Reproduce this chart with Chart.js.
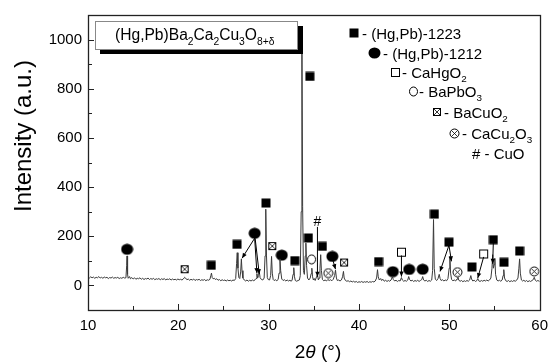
<!DOCTYPE html>
<html><head><meta charset="utf-8">
<script src="https://cdn.jsdelivr.net/npm/chart.js@4.4.1/dist/chart.umd.min.js"></script>
<style>html,body{margin:0;padding:0;background:#fff;}#wrap{width:555px;height:363px;position:relative;}</style>
</head><body><div id="wrap"><canvas id="c" width="555" height="363"></canvas></div>
<script>
const xTickValues = [10,20,30,40,50,60];
const yTickValues = [0,200,400,600,800,1000];
const xAxisTitle = ['2', 'θ', ' (°)'];
const yAxisTitle = 'Intensity (a.u.)';

// XRD scan: [2theta, intensity]
const scan = [
[10.0,33],[10.15,30],[10.3,35],[10.45,31],[10.6,34],[10.75,29],[10.9,33],[11.05,31],[11.2,36],[11.35,30],[11.5,33],[11.65,29],[11.8,34],[11.95,31],[12.1,33],[12.25,28],[12.4,32],[12.55,30],[12.7,34],[12.85,29],[13.0,32],[13.15,30],[13.3,33],[13.45,28],[13.6,31],[13.75,29],[13.9,33],[14.05,30],[14.2,31],[14.28,80],[14.32,120],[14.38,45],[14.45,29],[14.6,36],[14.7,27],[14.85,32],[15.0,26],
[15.15,31],[15.3,25],[15.45,29],[15.6,27],[15.75,31],[15.9,25],[16.05,29],[16.2,24],[16.35,28],[16.5,26],[16.65,30],[16.8,24],[16.95,28],[17.1,25],[17.25,29],[17.4,23],[17.55,27],[17.7,25],[17.85,28],[18.0,23],[18.15,27],[18.3,24],[18.45,28],[18.6,22],[18.75,26],[18.9,24],[19.05,27],[19.2,22],[19.35,26],[19.5,23],[19.65,25],[19.8,22],[19.95,26],[20.1,23],[20.25,25],[20.4,22],[20.55,26],[20.7,33],[20.8,30],[20.95,23],
[21.1,26],[21.25,21],[21.4,25],[21.55,22],[21.7,26],[21.85,20],[22.0,24],[22.15,22],[22.3,25],[22.45,20],[22.6,23],[22.75,21],[22.9,24],[23.05,19],[23.2,23],[23.35,21],[23.5,25],[23.6,40],[23.67,50],[23.75,32],[23.85,27],[24.0,29],[24.1,24],[24.25,27],[24.4,21],[24.55,24],[24.7,19],[24.85,23],[25.0,20],[25.15,22],[25.3,18],[25.45,22],[25.6,19],[25.75,21],[25.9,18],[26.05,22],[26.2,20],[26.35,28],[26.45,90],[26.52,133],[26.6,70],[26.7,32],[26.8,28],[26.9,55],[26.98,108],[27.05,60],[27.15,30],[27.3,22],[27.45,18],[27.6,22],[27.75,17],[27.9,21],[28.05,18],[28.2,22],[28.35,19],[28.5,23],[28.6,28],[28.7,48],[28.78,30],[28.88,40],[28.95,58],[29.05,32],[29.2,24],[29.35,22],[29.5,30],[29.6,120],[29.68,310],[29.76,120],[29.85,32],[29.95,24],[30.1,22],[30.22,40],[30.32,118],[30.4,50],[30.5,24],[30.6,20],[30.75,23],[30.9,19],[31.05,24],[31.15,50],[31.25,108],[31.33,60],[31.45,26],[31.6,20],[31.75,23],[31.9,18],[32.05,22],[32.2,18],[32.35,21],[32.5,17],[32.6,22],[32.7,45],[32.78,72],[32.86,35],[32.95,20],[33.1,17],[33.25,20],[33.4,22],[33.5,40],[33.6,300],[33.68,1040],[33.76,320],[33.85,60],[33.95,45],[34.05,120],[34.12,172],[34.2,80],[34.3,30],[34.45,22],[34.6,30],[34.7,48],[34.78,70],[34.86,35],[34.95,22],[35.05,28],[35.15,20],[35.3,35],[35.4,45],[35.5,22],[35.6,30],[35.68,70],[35.76,125],[35.84,60],[35.95,24],[36.1,19],[36.25,22],[36.4,18],[36.55,24],[36.7,20],[36.85,23],[37.0,19],[37.15,25],[37.3,40],[37.4,62],[37.5,30],[37.6,20],[37.75,22],[37.9,18],[38.05,22],[38.18,35],[38.28,57],[38.36,30],[38.5,20],[38.65,17],[38.8,19],[38.95,15],[39.1,18],[39.25,14],[39.4,17],[39.55,13],[39.7,16],[39.85,12],[40.0,15],[40.15,13],[40.3,16],[40.45,12],[40.6,15],[40.75,13],[40.9,16],[41.05,12],[41.2,15],[41.35,13],[41.5,16],[41.65,14],[41.8,18],[41.95,30],[42.05,64],[42.13,35],[42.25,22],[42.4,28],[42.5,20],[42.65,25],[42.8,17],[42.95,21],[43.1,16],[43.25,20],[43.4,17],[43.55,22],[43.7,35],[43.8,24],[43.95,18],[44.1,21],[44.25,16],[44.4,20],[44.55,18],[44.7,32],[44.8,22],[44.95,17],[45.1,20],[45.25,17],[45.4,22],[45.5,36],[45.6,24],[45.75,18],[45.9,21],[46.05,16],[46.2,20],[46.35,17],[46.5,21],[46.65,16],[46.8,20],[46.95,24],[47.05,36],[47.15,22],[47.3,18],[47.45,21],[47.6,16],[47.75,20],[47.9,17],[48.05,22],[48.15,60],[48.25,268],[48.33,70],[48.45,25],[48.6,20],[48.75,28],[48.88,45],[48.98,28],[49.1,20],[49.25,23],[49.4,18],[49.55,22],[49.7,19],[49.85,28],[49.98,70],[50.06,118],[50.14,50],[50.25,24],[50.4,19],[50.55,22],[50.7,18],[50.85,26],[50.95,33],[51.05,21],[51.2,17],[51.35,20],[51.5,15],[51.65,19],[51.8,16],[51.95,20],[52.1,17],[52.25,22],[52.38,40],[52.46,26],[52.6,18],[52.75,21],[52.9,16],[53.05,20],[53.15,28],[53.25,19],[53.4,16],[53.55,20],[53.7,17],[53.85,21],[54.0,18],[54.15,22],[54.3,18],[54.45,22],[54.6,30],[54.72,70],[54.8,125],[54.88,70],[54.97,85],[55.04,110],[55.12,45],[55.25,22],[55.4,18],[55.55,21],[55.7,17],[55.85,22],[55.95,40],[56.03,64],[56.11,30],[56.25,19],[56.4,16],[56.55,20],[56.7,15],[56.85,19],[57.0,16],[57.15,20],[57.3,17],[57.45,21],[57.6,30],[57.7,70],[57.78,108],[57.86,50],[57.98,22],[58.1,18],[58.25,21],[58.4,16],[58.55,20],[58.7,15],[58.85,19],[59.0,16],[59.15,20],[59.3,24],[59.4,33],[59.5,22],[59.65,17],[59.8,20],[60.0,16]
];

// phase markers [2theta, intensity]
const phase1223 = [[23.65,82],[26.5,167],[29.7,335],[32.9,101],[34.56,850],[34.4,193],[35.95,159],[42.17,97],[48.35,290],[49.96,176],[52.5,75],[54.87,186],[56.05,94],[57.78,140]];
const phase1212 = [[14.33,147],[28.45,212],[31.45,123],[37.05,118],[43.75,56],[45.55,65],[47.05,66]];
const phaseCaHgO2 = [[44.7,135],[53.8,128]];
const phaseBaPbO3 = [[34.75,106]];
const phaseBaCuO2 = [[20.7,66],[30.4,160],[38.35,93]];
const phaseCaCu2O3 = [[36.6,50],[50.9,54],[59.4,57]];
const phaseCuO = [[35.4,258]];
// arrows [fromX, fromY, toX, toY]
const arrows = [[28.45,192,27.06,111],[28.45,192,28.7,50],[28.5,192,28.96,46],[35.4,238,35.4,35],[37.1,104,37.4,66],[44.7,122,44.7,36],[49.96,163,48.97,57],[49.96,163,50.24,98],[53.8,116,53.15,30],[54.87,173,54.8,88]];

const legendEntries = [
  {sym:'sq', parts:[['- (Hg,Pb)-1223','n']]},
  {sym:'el', parts:[['- (Hg,Pb)-1212','n']]},
  {sym:'osq', parts:[['- CaHgO','n'],['2','s']]},
  {sym:'oc', parts:[['- BaPbO','n'],['3','s']]},
  {sym:'xsq', parts:[['- BaCuO','n'],['2','s']]},
  {sym:'xc', parts:[['- CaCu','n'],['2','s'],['O','n'],['3','s']]},
  {sym:'#', parts:[['# - CuO','n']]}
];
const titleParts = [['(Hg,Pb)Ba','n'],['2','s'],['Ca','n'],['2','s'],['Cu','n'],['3','s'],['O','n'],['8+δ','s']];

const FONT = '"Liberation Sans", Arial, Helvetica, sans-serif';
function mk(w,h,draw){const c=document.createElement('canvas');c.width=w;c.height=h;const g=c.getContext('2d');draw(g,w,h);return c;}
const SYM = {
  sq: mk(10,10,g=>{g.fillStyle='#000';g.fillRect(0.5,0.5,9,9);}),
  el: mk(13,12,g=>{g.fillStyle='#000';g.beginPath();g.ellipse(6.5,6,6,5.5,0,0,Math.PI*2);g.fill();}),
  osq: mk(11,11,g=>{g.fillStyle='#fff';g.fillRect(1,1,9,9);g.strokeStyle='#000';g.lineWidth=1;g.strokeRect(1.5,1.5,8,8);}),
  oc: mk(11,11,g=>{g.fillStyle='#fff';g.beginPath();g.ellipse(5.5,5.5,4,4.5,0,0,Math.PI*2);g.fill();g.strokeStyle='#000';g.lineWidth=1;g.stroke();}),
  xsq: mk(10,10,g=>{g.fillStyle='#fff';g.fillRect(1,1,8,8);g.strokeStyle='#000';g.lineWidth=1;g.strokeRect(1.5,1.5,7,7);g.beginPath();g.moveTo(2,2);g.lineTo(8,8);g.moveTo(8,2);g.lineTo(2,8);g.lineWidth=0.8;g.stroke();}),
  xc: mk(11,11,g=>{g.fillStyle='#fff';g.beginPath();g.arc(5.5,5.5,4.5,0,Math.PI*2);g.fill();g.strokeStyle='#000';g.lineWidth=1;g.stroke();g.beginPath();g.moveTo(2.5,2.5);g.lineTo(8.5,8.5);g.moveTo(8.5,2.5);g.lineTo(2.5,8.5);g.lineWidth=0.8;g.stroke();})
};

function richText(ctx,x,y,parts,size){
  let cx=x;
  for(const [t,k] of parts){
    if(k==='s'){ctx.font=(size*0.66).toFixed(1)+'px '+FONT;ctx.fillText(t,cx,y+size*0.3);}
    else{ctx.font=size+'px '+FONT;ctx.fillText(t,cx,y);}
    cx+=ctx.measureText(t).width;
  }
  return cx;
}

const pts = a => a.map(([x,y])=>({x,y}));
function markerSet(data, sym){return {data:pts(data), showLine:false, pointStyle:SYM[sym], pointRadius:5, pointHoverRadius:5};}

const decor = {
  id:'decor',
  afterDatasetsDraw(chart){
    const ctx=chart.ctx, xs=chart.scales.x, ys=chart.scales.y;
    ctx.save();
    ctx.strokeStyle='#000';ctx.fillStyle='#000';ctx.lineWidth=1;
    for(const [x1,y1,x2,y2] of arrows){
      const px1=xs.getPixelForValue(x1),py1=ys.getPixelForValue(y1),px2=xs.getPixelForValue(x2),py2=ys.getPixelForValue(y2);
      ctx.beginPath();ctx.moveTo(px1,py1);ctx.lineTo(px2,py2);ctx.stroke();
      const ang=Math.atan2(py2-py1,px2-px1),L=5,W=2.2;
      ctx.beginPath();ctx.moveTo(px2,py2);
      ctx.lineTo(px2-L*Math.cos(ang)+W*Math.sin(ang),py2-L*Math.sin(ang)-W*Math.cos(ang));
      ctx.lineTo(px2-L*Math.cos(ang)-W*Math.sin(ang),py2-L*Math.sin(ang)+W*Math.cos(ang));
      ctx.closePath();ctx.fill();
    }
    ctx.font='14px '+FONT;ctx.textAlign='center';ctx.textBaseline='middle';
    for(const [x,y] of phaseCuO){ctx.fillText('#',xs.getPixelForValue(x),ys.getPixelForValue(y));}
    ctx.restore();
  },
  afterDraw(chart){
    const ctx=chart.ctx, xs=chart.scales.x, ys=chart.scales.y, a=chart.chartArea;
    ctx.save();
    ctx.strokeStyle='#222';ctx.lineWidth=1.3;
    ctx.strokeRect(Math.round(a.left)+0.5,Math.round(a.top)+0.5,Math.round(a.right-a.left),Math.round(a.bottom-a.top));
    ctx.lineWidth=1;ctx.beginPath();
    for(let v=15; v<60; v+=5){const p=Math.round(xs.getPixelForValue(v))+0.5;const L=(v%10===0)?6:4;ctx.moveTo(p,a.bottom);ctx.lineTo(p,a.bottom-L);}
    for(let v=0; v<=1000; v+=100){const p=Math.round(ys.getPixelForValue(v))+0.5;const L=(v%200===0)?6:4;ctx.moveTo(a.left,p);ctx.lineTo(a.left+L,p);}
    ctx.stroke();
    ctx.fillStyle='#000';ctx.textBaseline='alphabetic';ctx.textAlign='left';
    const legPos=[[354,33,362],[374,53,383],[395,72,402],[413,91,419],[437,112,444],[454,133,462],[0,153,472]];
    legendEntries.forEach((e,i)=>{
      const [sx,sy,tx]=legPos[i];
      if(e.sym!=='#'){const s=SYM[e.sym];ctx.drawImage(s,Math.round(sx-s.width/2),Math.round(sy-s.height/2));}
      richText(ctx,tx,sy+5.5,e.parts,15);
    });
    ctx.fillStyle='#000';ctx.fillRect(100,26,203,28);
    ctx.fillStyle='#fff';ctx.fillRect(95,21,202,28);
    ctx.strokeStyle='#888';ctx.lineWidth=1;ctx.strokeRect(95.5,21.5,202,28);
    ctx.fillStyle='#000';
    richText(ctx,115,40,titleParts,15.6);
    ctx.save();ctx.translate(31,136);ctx.rotate(-Math.PI/2);ctx.textAlign='center';ctx.font='24px '+FONT;ctx.fillText(yAxisTitle,0,0);ctx.restore();
    ctx.textAlign='left';
    const f=19;ctx.font=f+'px '+FONT;
    const w1=ctx.measureText(xAxisTitle[0]).width;ctx.font='italic '+f+'px '+FONT;const w2=ctx.measureText(xAxisTitle[1]).width;ctx.font=f+'px '+FONT;const w3=ctx.measureText(xAxisTitle[2]).width;
    let x0=318-(w1+w2+w3)/2;const by=358;
    ctx.font=f+'px '+FONT;ctx.fillText(xAxisTitle[0],x0,by);x0+=w1;
    ctx.font='italic '+f+'px '+FONT;ctx.fillText(xAxisTitle[1],x0,by);x0+=w2;
    ctx.font=f+'px '+FONT;ctx.fillText(xAxisTitle[2],x0,by);
    ctx.restore();
  }
};

new Chart(document.getElementById('c'),{
  type:'scatter',
  data:{datasets:[
    {data:pts(scan), showLine:true, borderColor:'#3a3a3a', borderWidth:1, pointRadius:0, tension:0},
    markerSet(phase1223,'sq'),
    markerSet(phase1212,'el'),
    markerSet(phaseCaHgO2,'osq'),
    markerSet(phaseBaPbO3,'oc'),
    markerSet(phaseBaCuO2,'xsq'),
    markerSet(phaseCaCu2O3,'xc')
  ]},
  options:{
    responsive:false, animation:false, devicePixelRatio:1, events:[],
    layout:{padding:{left:0,right:9,top:13,bottom:0}},
    plugins:{legend:{display:false},tooltip:{enabled:false}},
    scales:{
      x:{type:'linear',min:10,max:60,
        afterBuildTicks:s=>{s.ticks=xTickValues.map(v=>({value:v}));},
        ticks:{font:{family:FONT,size:15},color:'#000',padding:7,maxRotation:0,callback:v=>String(v)},
        grid:{display:false,drawTicks:false},border:{display:false},
        afterFit:s=>{s.height=363-310;}},
      y:{type:'linear',min:-100,max:1100,
        afterBuildTicks:s=>{s.ticks=yTickValues.map(v=>({value:v}));},
        ticks:{font:{family:FONT,size:15},color:'#000',padding:6,callback:v=>String(v)},
        grid:{display:false,drawTicks:false},border:{display:false},
        afterFit:s=>{s.width=88;}}
    }
  },
  plugins:[decor]
});
</script></body></html>
